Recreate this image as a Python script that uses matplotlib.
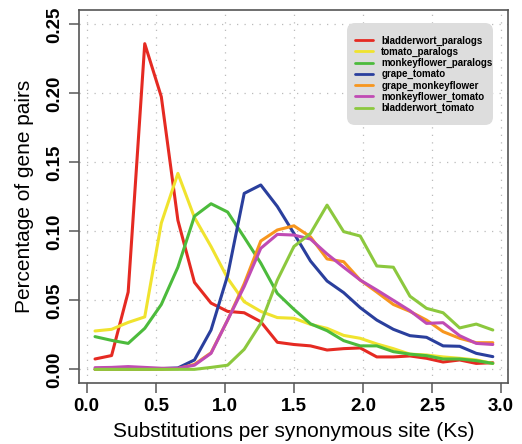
import matplotlib
matplotlib.use("Agg")
import matplotlib.pyplot as plt
from matplotlib.patches import FancyBboxPatch
from matplotlib.transforms import IdentityTransform

plt.rcParams['font.family'] = ['Liberation Sans', 'DejaVu Sans']

ks = [0.06 + 0.12 * k for k in range(25)]

bladderwort_paralogs = [0.0075, 0.010, 0.056, 0.236, 0.1975, 0.108, 0.063, 0.048, 0.042, 0.041,
                        0.0345, 0.0196, 0.018, 0.017, 0.014, 0.015, 0.0155, 0.009, 0.009, 0.0097,
                        0.008, 0.0053, 0.0068, 0.0043, 0.0048]
tomato_paralogs = [0.0278, 0.029, 0.034, 0.038, 0.106, 0.142, 0.110, 0.089, 0.066, 0.049,
                   0.042, 0.0375, 0.037, 0.0326, 0.0297, 0.0246, 0.0225, 0.0184, 0.015, 0.011,
                   0.0104, 0.009, 0.008, 0.0068, 0.0043]
monkeyflower_paralogs = [0.0237, 0.021, 0.0188, 0.0297, 0.047, 0.074, 0.111, 0.120, 0.114, 0.0957,
                         0.077, 0.055, 0.0435, 0.033, 0.028, 0.0208, 0.017, 0.017, 0.0128, 0.011,
                         0.0099, 0.0075, 0.0075, 0.0063, 0.0043]
grape_tomato = [0.0, 0.0, 0.0, 0.0, 0.0005, 0.001, 0.0068, 0.0285, 0.068, 0.1275,
                0.1336, 0.118, 0.0985, 0.0785, 0.064, 0.0556, 0.0447, 0.0357, 0.029, 0.0244,
                0.0232, 0.017, 0.0167, 0.0116, 0.0092]
grape_monkeyflower = [0.0, 0.0, 0.0, 0.0, 0.0, 0.0005, 0.0036, 0.012, 0.0357, 0.062,
                      0.093, 0.101, 0.104, 0.096, 0.080, 0.078, 0.0647, 0.056, 0.047, 0.042,
                      0.0357, 0.0273, 0.0225, 0.0193, 0.0193]
monkeyflower_tomato = [0.0012, 0.0014, 0.002, 0.0014, 0.0008, 0.0008, 0.003, 0.0116, 0.0357, 0.060,
                       0.0877, 0.0978, 0.0973, 0.0944, 0.0836, 0.074, 0.0647, 0.0575, 0.050, 0.0425,
                       0.0333, 0.0338, 0.0244, 0.0188, 0.018]
bladderwort_tomato = [0.0, 0.0, 0.0, 0.0, 0.0, 0.0, 0.0, 0.0014, 0.003, 0.0145,
                      0.0333, 0.0647, 0.089, 0.0985, 0.119, 0.0998, 0.0966, 0.0749, 0.074, 0.053,
                      0.0442, 0.041, 0.030, 0.0328, 0.0285]

series = [
    ("bladderwort_paralogs", bladderwort_paralogs, "#E52A22"),
    ("tomato_paralogs", tomato_paralogs, "#F0E32E"),
    ("monkeyflower_paralogs", monkeyflower_paralogs, "#4CBB3C"),
    ("grape_tomato", grape_tomato, "#2A3F9D"),
    ("grape_monkeyflower", grape_monkeyflower, "#F7961E"),
    ("monkeyflower_tomato", monkeyflower_tomato, "#C04BB4"),
    ("bladderwort_tomato", bladderwort_tomato, "#8CC83E"),
]

xticks = [0.0, 0.5, 1.0, 1.5, 2.0, 2.5, 3.0]
yticks = [0.00, 0.05, 0.10, 0.15, 0.20, 0.25]

W, H = 522, 444
fig = plt.figure(figsize=(W / 100, H / 100), dpi=100)
ax = fig.add_axes([79 / W, 1 - 383 / H, (508 - 79) / W, (383 - 10) / H])

for name, vals, col in series:
    ax.plot(ks, vals, color=col, lw=2.2, label=name, solid_joinstyle="round", solid_capstyle="round")

ax.set_xlim(-0.056, 3.05)
ax.set_ylim(-0.0099, 0.2604)
ax.set_xticks(xticks)
ax.set_xticklabels([f"{t:.1f}" for t in xticks], fontweight="bold", fontsize=13.5)
ax.set_yticks(yticks)
ax.set_yticklabels([f"{t:.2f}" for t in yticks], fontweight="bold", fontsize=13.5,
                   rotation=90, va="center")
ax.tick_params(axis="both", direction="out", length=7, width=1.2, color="#666666", pad=4)
ax.grid(True, linestyle=(0, (1, 5)), color="#BBBBBB", linewidth=0.9)
for sp in ax.spines.values():
    sp.set_color("#555555")
    sp.set_linewidth(1.2)

ax.set_xlabel("Substitutions per synonymous site (Ks)", fontsize=15, labelpad=5)
ax.set_ylabel("Percentage of gene pairs", fontsize=15, labelpad=9)

# legend background box (pixel coordinates)
box = FancyBboxPatch((347, H - 125), 146, 102, boxstyle="round,pad=0,rounding_size=8",
                     transform=IdentityTransform(), facecolor="#DDDDDD", edgecolor="none",
                     zorder=4, clip_on=False)
ax.add_artist(box)

leg = ax.legend(loc="upper left", bbox_to_anchor=(355 / W, 1 - 35.5 / H),
                bbox_transform=fig.transFigure, frameon=False,
                prop={"size": 7, "weight": "bold"}, handlelength=1.9, handletextpad=0.8,
                labelspacing=0.12, borderpad=0, borderaxespad=0)
leg.set_zorder(6)
for line in leg.get_lines():
    line.set_linewidth(2.0)

fig.savefig("out.png", dpi=100)
